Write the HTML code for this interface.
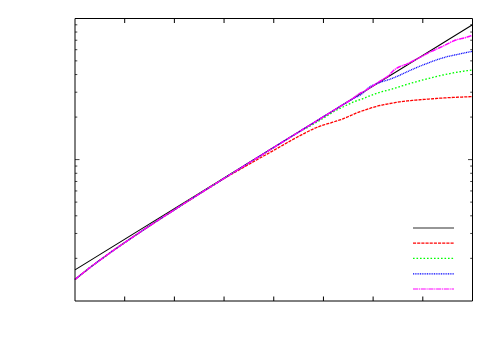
<!DOCTYPE html><html><head><meta charset="utf-8"><style>html,body{margin:0;padding:0;background:#fff;font-family:"Liberation Sans",sans-serif}svg{display:block}</style></head><body>
<svg width="500" height="350" viewBox="0 0 500 350">
<rect width="500" height="350" fill="#fff"/>
<g fill="none" stroke-linejoin="round">
<path d="M75.0,269.9 L472.5,24.75" stroke="#000" stroke-width="1.05"/>
<path d="M75.0,279.49 L76.0,278.67 L77.0,277.84 L78.0,277.03 L79.0,276.22 L80.0,275.41 L81.0,274.61 L82.0,273.81 L83.0,273.01 L84.0,272.22 L85.0,271.44 L86.0,270.65 L87.0,269.87 L88.0,269.10 L89.0,268.33 L90.0,267.56 L91.0,266.80 L92.0,266.03 L93.0,265.28 L94.0,264.52 L95.0,263.77 L96.0,263.02 L97.0,262.28 L98.0,261.53 L99.0,260.79 L100.0,260.06 L101.0,259.32 L102.0,258.59 L103.0,257.86 L104.0,257.13 L105.0,256.41 L106.0,255.69 L107.0,254.97 L108.0,254.25 L109.0,253.53 L110.0,252.82 L111.0,252.11 L112.0,251.40 L113.0,250.69 L114.0,249.99 L115.0,249.28 L116.0,248.58 L117.0,247.88 L118.0,247.18 L119.0,246.49 L120.0,245.79 L121.0,245.10 L122.0,244.41 L123.0,243.72 L124.0,243.03 L125.0,242.35 L126.0,241.66 L127.0,240.98 L128.0,240.30 L129.0,239.62 L130.0,238.94 L131.0,238.26 L132.0,237.58 L133.0,236.91 L134.0,236.23 L135.0,235.56 L136.0,234.89 L137.0,234.22 L138.0,233.55 L139.0,232.88 L140.0,232.21 L141.0,231.55 L142.0,230.88 L143.0,230.22 L144.0,229.55 L145.0,228.89 L146.0,228.23 L147.0,227.57 L148.0,226.91 L149.0,226.25 L150.0,225.59 L151.0,224.94 L152.0,224.28 L153.0,223.63 L154.0,222.97 L155.0,222.32 L156.0,221.67 L157.0,221.01 L158.0,220.36 L159.0,219.71 L160.0,219.06 L161.0,218.41 L162.0,217.76 L163.0,217.12 L164.0,216.47 L165.0,215.82 L166.0,215.18 L167.0,214.53 L168.0,213.89 L169.0,213.24 L170.0,212.60 L171.0,211.96 L172.0,211.31 L173.0,210.67 L174.0,210.03 L175.0,209.39 L176.0,208.75 L177.0,208.11 L178.0,207.47 L179.0,206.83 L180.0,206.19 L181.0,205.55 L182.0,204.92 L183.0,204.28 L184.0,203.64 L185.0,203.01 L186.0,202.37 L187.0,201.73 L188.0,201.10 L189.0,200.46 L190.0,199.83 L191.0,199.19 L192.0,198.56 L193.0,197.93 L194.0,197.29 L195.0,196.66 L196.0,196.03 L197.0,195.40 L198.0,194.77 L199.0,194.13 L200.0,193.50 L201.0,192.87 L202.0,192.24 L203.0,191.61 L204.0,190.98 L205.0,190.35 L206.0,189.72 L207.0,189.09 L208.0,188.46 L209.0,187.84 L210.0,187.21 L211.0,186.58 L212.0,185.95 L213.0,185.32 L214.0,184.70 L215.0,184.07 L216.0,183.45 L217.0,182.84 L218.0,182.23 L219.0,181.62 L220.0,181.01 L221.0,180.40 L222.0,179.80 L223.0,179.20 L224.0,178.59 L225.0,177.99 L226.0,177.39 L227.0,176.81 L228.0,176.23 L229.0,175.66 L230.0,175.09 L231.0,174.53 L232.0,173.97 L233.0,173.41 L234.0,172.85 L235.0,172.29 L236.0,171.73 L237.0,171.16 L238.0,170.59 L239.0,170.02 L240.0,169.44 L241.0,168.86 L242.0,168.29 L243.0,167.71 L244.0,167.13 L245.0,166.55 L246.0,165.97 L247.0,165.40 L248.0,164.82 L249.0,164.25 L250.0,163.67 L251.0,163.10 L252.0,162.53 L253.0,161.96 L254.0,161.39 L255.0,160.83 L256.0,160.26 L257.0,159.70 L258.0,159.13 L259.0,158.57 L260.0,158.01 L261.0,157.44 L262.0,156.89 L263.0,156.33 L264.0,155.78 L265.0,155.22 L266.0,154.67 L267.0,154.11 L268.0,153.56 L269.0,153.00 L270.0,152.44 L271.0,151.87 L272.0,151.31 L273.0,150.75 L274.0,150.18 L275.0,149.61 L276.0,149.04 L277.0,148.48 L278.0,147.91 L279.0,147.34 L280.0,146.77 L281.0,146.20 L282.0,145.64 L283.0,145.07 L284.0,144.50 L285.0,143.93 L286.0,143.36 L287.0,142.79 L288.0,142.22 L289.0,141.65 L290.0,141.08 L291.0,140.51 L292.0,139.95 L293.0,139.39 L294.0,138.84 L295.0,138.29 L296.0,137.75 L297.0,137.22 L298.0,136.69 L299.0,136.16 L300.0,135.64 L301.0,135.11 L302.0,134.59 L303.0,134.07 L304.0,133.56 L305.0,133.05 L306.0,132.54 L307.0,132.03 L308.0,131.52 L309.0,131.01 L310.0,130.51 L311.0,130.02 L312.0,129.54 L313.0,129.07 L314.0,128.62 L315.0,128.18 L316.0,127.75 L317.0,127.34 L318.0,126.93 L319.0,126.54 L320.0,126.17 L321.0,125.82 L322.0,125.47 L323.0,125.14 L324.0,124.82 L325.0,124.50 L326.0,124.20 L327.0,123.92 L328.0,123.66 L329.0,123.39 L330.0,123.10 L331.0,122.79 L332.0,122.47 L333.0,122.15 L334.0,121.82 L335.0,121.50 L336.0,121.19 L337.0,120.88 L338.0,120.56 L339.0,120.24 L340.0,119.90 L341.0,119.54 L342.0,119.17 L343.0,118.79 L344.0,118.40 L345.0,118.00 L346.0,117.60 L347.0,117.18 L348.0,116.76 L349.0,116.34 L350.0,115.90 L351.0,115.45 L352.0,114.98 L353.0,114.51 L354.0,114.04 L355.0,113.60 L356.0,113.19 L357.0,112.80 L358.0,112.42 L359.0,112.06 L360.0,111.70 L361.0,111.35 L362.0,111.00 L363.0,110.67 L364.0,110.34 L365.0,110.00 L366.0,109.66 L367.0,109.31 L368.0,108.97 L369.0,108.63 L370.0,108.30 L371.0,107.98 L372.0,107.68 L373.0,107.38 L374.0,107.08 L375.0,106.80 L376.0,106.52 L377.0,106.25 L378.0,105.99 L379.0,105.74 L380.0,105.50 L381.0,105.27 L382.0,105.05 L383.0,104.84 L384.0,104.63 L385.0,104.44 L386.0,104.24 L387.0,104.06 L388.0,103.87 L389.0,103.69 L390.0,103.50 L391.0,103.31 L392.0,103.13 L393.0,102.95 L394.0,102.77 L395.0,102.60 L396.0,102.43 L397.0,102.26 L398.0,102.10 L399.0,101.95 L400.0,101.80 L401.0,101.66 L402.0,101.53 L403.0,101.40 L404.0,101.28 L405.0,101.17 L406.0,101.06 L407.0,100.95 L408.0,100.85 L409.0,100.75 L410.0,100.66 L411.0,100.56 L412.0,100.47 L413.0,100.38 L414.0,100.29 L415.0,100.19 L416.0,100.10 L417.0,100.01 L418.0,99.92 L419.0,99.83 L420.0,99.74 L421.0,99.66 L422.0,99.57 L423.0,99.49 L424.0,99.41 L425.0,99.33 L426.0,99.26 L427.0,99.18 L428.0,99.10 L429.0,99.03 L430.0,98.95 L431.0,98.88 L432.0,98.80 L433.0,98.73 L434.0,98.65 L435.0,98.58 L436.0,98.50 L437.0,98.43 L438.0,98.36 L439.0,98.29 L440.0,98.22 L441.0,98.15 L442.0,98.08 L443.0,98.01 L444.0,97.95 L445.0,97.88 L446.0,97.82 L447.0,97.76 L448.0,97.70 L449.0,97.64 L450.0,97.59 L451.0,97.54 L452.0,97.49 L453.0,97.44 L454.0,97.39 L455.0,97.34 L456.0,97.30 L457.0,97.25 L458.0,97.21 L459.0,97.17 L460.0,97.12 L461.0,97.08 L462.0,97.04 L463.0,96.99 L464.0,96.95 L465.0,96.91 L466.0,96.86 L467.0,96.82 L468.0,96.78 L469.0,96.74 L470.0,96.70 L471.0,96.66 L472.5,96.60" stroke="#ff0000" stroke-width="1.3" stroke-dasharray="3.1,1.07"/>
<path d="M75.0,279.49 L76.0,278.67 L77.0,277.84 L78.0,277.03 L79.0,276.22 L80.0,275.41 L81.0,274.61 L82.0,273.81 L83.0,273.01 L84.0,272.22 L85.0,271.44 L86.0,270.65 L87.0,269.87 L88.0,269.10 L89.0,268.33 L90.0,267.56 L91.0,266.80 L92.0,266.03 L93.0,265.28 L94.0,264.52 L95.0,263.77 L96.0,263.02 L97.0,262.28 L98.0,261.53 L99.0,260.79 L100.0,260.06 L101.0,259.32 L102.0,258.59 L103.0,257.86 L104.0,257.13 L105.0,256.41 L106.0,255.69 L107.0,254.97 L108.0,254.25 L109.0,253.53 L110.0,252.82 L111.0,252.11 L112.0,251.40 L113.0,250.69 L114.0,249.99 L115.0,249.28 L116.0,248.58 L117.0,247.88 L118.0,247.18 L119.0,246.49 L120.0,245.79 L121.0,245.10 L122.0,244.41 L123.0,243.72 L124.0,243.03 L125.0,242.35 L126.0,241.66 L127.0,240.98 L128.0,240.30 L129.0,239.62 L130.0,238.94 L131.0,238.26 L132.0,237.58 L133.0,236.91 L134.0,236.23 L135.0,235.56 L136.0,234.89 L137.0,234.22 L138.0,233.55 L139.0,232.88 L140.0,232.21 L141.0,231.55 L142.0,230.88 L143.0,230.22 L144.0,229.55 L145.0,228.89 L146.0,228.23 L147.0,227.57 L148.0,226.91 L149.0,226.25 L150.0,225.59 L151.0,224.94 L152.0,224.28 L153.0,223.63 L154.0,222.97 L155.0,222.32 L156.0,221.67 L157.0,221.01 L158.0,220.36 L159.0,219.71 L160.0,219.06 L161.0,218.41 L162.0,217.76 L163.0,217.12 L164.0,216.47 L165.0,215.82 L166.0,215.18 L167.0,214.53 L168.0,213.89 L169.0,213.24 L170.0,212.60 L171.0,211.96 L172.0,211.31 L173.0,210.67 L174.0,210.03 L175.0,209.39 L176.0,208.75 L177.0,208.11 L178.0,207.47 L179.0,206.83 L180.0,206.19 L181.0,205.55 L182.0,204.92 L183.0,204.28 L184.0,203.64 L185.0,203.01 L186.0,202.37 L187.0,201.73 L188.0,201.10 L189.0,200.46 L190.0,199.83 L191.0,199.19 L192.0,198.56 L193.0,197.93 L194.0,197.29 L195.0,196.66 L196.0,196.03 L197.0,195.40 L198.0,194.77 L199.0,194.13 L200.0,193.50 L201.0,192.87 L202.0,192.24 L203.0,191.61 L204.0,190.98 L205.0,190.35 L206.0,189.72 L207.0,189.09 L208.0,188.46 L209.0,187.84 L210.0,187.21 L211.0,186.58 L212.0,185.95 L213.0,185.32 L214.0,184.70 L215.0,184.07 L216.0,183.44 L217.0,182.81 L218.0,182.19 L219.0,181.56 L220.0,180.93 L221.0,180.31 L222.0,179.68 L223.0,179.06 L224.0,178.43 L225.0,177.81 L226.0,177.18 L227.0,176.56 L228.0,175.93 L229.0,175.31 L230.0,174.68 L231.0,174.06 L232.0,173.43 L233.0,172.81 L234.0,172.19 L235.0,171.56 L236.0,170.94 L237.0,170.31 L238.0,169.69 L239.0,169.07 L240.0,168.45 L241.0,167.82 L242.0,167.20 L243.0,166.58 L244.0,165.95 L245.0,165.33 L246.0,164.71 L247.0,164.09 L248.0,163.47 L249.0,162.84 L250.0,162.22 L251.0,161.60 L252.0,160.98 L253.0,160.36 L254.0,159.73 L255.0,159.11 L256.0,158.49 L257.0,157.87 L258.0,157.25 L259.0,156.63 L260.0,156.01 L261.0,155.39 L262.0,154.77 L263.0,154.15 L264.0,153.53 L265.0,152.90 L266.0,152.28 L267.0,151.66 L268.0,151.04 L269.0,150.42 L270.0,149.80 L271.0,149.18 L272.0,148.56 L273.0,147.94 L274.0,147.32 L275.0,146.70 L276.0,146.08 L277.0,145.46 L278.0,144.84 L279.0,144.22 L280.0,143.61 L281.0,142.99 L282.0,142.37 L283.0,141.75 L284.0,141.13 L285.0,140.51 L286.0,139.89 L287.0,139.27 L288.0,138.65 L289.0,138.03 L290.0,137.41 L291.0,136.79 L292.0,136.18 L293.0,135.56 L294.0,134.94 L295.0,134.32 L296.0,133.70 L297.0,133.15 L298.0,132.60 L299.0,132.06 L300.0,131.51 L301.0,130.97 L302.0,130.43 L303.0,129.89 L304.0,129.35 L305.0,128.83 L306.0,128.31 L307.0,127.78 L308.0,127.24 L309.0,126.69 L310.0,126.11 L311.0,125.54 L312.0,124.95 L313.0,124.37 L314.0,123.78 L315.0,123.18 L316.0,122.59 L317.0,122.00 L318.0,121.40 L319.0,120.80 L320.0,120.20 L321.0,119.58 L322.0,118.97 L323.0,118.35 L324.0,117.73 L325.0,117.12 L326.0,116.50 L327.0,115.88 L328.0,115.26 L329.0,114.63 L330.0,113.99 L331.0,113.37 L332.0,112.75 L333.0,112.13 L334.0,111.52 L335.0,110.90 L336.0,110.33 L337.0,109.82 L338.0,109.36 L339.0,108.92 L340.0,108.47 L341.0,108.00 L342.0,107.50 L343.0,107.00 L344.0,106.50 L345.0,106.00 L346.0,105.50 L347.0,105.01 L348.0,104.51 L349.0,104.02 L350.0,103.53 L351.0,103.06 L352.0,102.60 L353.0,102.17 L354.0,101.76 L355.0,101.38 L356.0,101.00 L357.0,100.64 L358.0,100.31 L359.0,100.00 L360.0,99.68 L361.0,99.35 L362.0,99.00 L363.0,98.62 L364.0,98.22 L365.0,97.82 L366.0,97.41 L367.0,97.00 L368.0,96.60 L369.0,96.21 L370.0,95.81 L371.0,95.43 L372.0,95.04 L373.0,94.67 L374.0,94.30 L375.0,93.95 L376.0,93.60 L377.0,93.26 L378.0,92.93 L379.0,92.61 L380.0,92.30 L381.0,91.99 L382.0,91.70 L383.0,91.43 L384.0,91.18 L385.0,90.94 L386.0,90.71 L387.0,90.46 L388.0,90.20 L389.0,89.92 L390.0,89.63 L391.0,89.33 L392.0,89.02 L393.0,88.71 L394.0,88.40 L395.0,88.10 L396.0,87.80 L397.0,87.49 L398.0,87.18 L399.0,86.87 L400.0,86.56 L401.0,86.25 L402.0,85.93 L403.0,85.62 L404.0,85.31 L405.0,85.00 L406.0,84.69 L407.0,84.39 L408.0,84.09 L409.0,83.79 L410.0,83.49 L411.0,83.20 L412.0,82.91 L413.0,82.63 L414.0,82.35 L415.0,82.07 L416.0,81.80 L417.0,81.52 L418.0,81.25 L419.0,80.99 L420.0,80.72 L421.0,80.46 L422.0,80.19 L423.0,79.93 L424.0,79.67 L425.0,79.41 L426.0,79.16 L427.0,78.90 L428.0,78.64 L429.0,78.39 L430.0,78.13 L431.0,77.88 L432.0,77.63 L433.0,77.37 L434.0,77.12 L435.0,76.88 L436.0,76.63 L437.0,76.39 L438.0,76.15 L439.0,75.91 L440.0,75.68 L441.0,75.45 L442.0,75.22 L443.0,75.00 L444.0,74.78 L445.0,74.57 L446.0,74.35 L447.0,74.15 L448.0,73.94 L449.0,73.74 L450.0,73.54 L451.0,73.35 L452.0,73.15 L453.0,72.96 L454.0,72.78 L455.0,72.60 L456.0,72.42 L457.0,72.24 L458.0,72.07 L459.0,71.90 L460.0,71.73 L461.0,71.57 L462.0,71.42 L463.0,71.26 L464.0,71.11 L465.0,70.97 L466.0,70.83 L467.0,70.69 L468.0,70.56 L469.0,70.43 L470.0,70.30 L471.0,70.18 L472.5,70.00" stroke="#00ff00" stroke-width="1.35" stroke-dasharray="1.6,1.9"/>
<path d="M75.0,279.49 L76.0,278.67 L77.0,277.84 L78.0,277.03 L79.0,276.22 L80.0,275.41 L81.0,274.61 L82.0,273.81 L83.0,273.01 L84.0,272.22 L85.0,271.44 L86.0,270.65 L87.0,269.87 L88.0,269.10 L89.0,268.33 L90.0,267.56 L91.0,266.80 L92.0,266.03 L93.0,265.28 L94.0,264.52 L95.0,263.77 L96.0,263.02 L97.0,262.28 L98.0,261.53 L99.0,260.79 L100.0,260.06 L101.0,259.32 L102.0,258.59 L103.0,257.86 L104.0,257.13 L105.0,256.41 L106.0,255.69 L107.0,254.97 L108.0,254.25 L109.0,253.53 L110.0,252.82 L111.0,252.11 L112.0,251.40 L113.0,250.69 L114.0,249.99 L115.0,249.28 L116.0,248.58 L117.0,247.88 L118.0,247.18 L119.0,246.49 L120.0,245.79 L121.0,245.10 L122.0,244.41 L123.0,243.72 L124.0,243.03 L125.0,242.35 L126.0,241.66 L127.0,240.98 L128.0,240.30 L129.0,239.62 L130.0,238.94 L131.0,238.26 L132.0,237.58 L133.0,236.91 L134.0,236.23 L135.0,235.56 L136.0,234.89 L137.0,234.22 L138.0,233.55 L139.0,232.88 L140.0,232.21 L141.0,231.55 L142.0,230.88 L143.0,230.22 L144.0,229.55 L145.0,228.89 L146.0,228.23 L147.0,227.57 L148.0,226.91 L149.0,226.25 L150.0,225.59 L151.0,224.94 L152.0,224.28 L153.0,223.63 L154.0,222.97 L155.0,222.32 L156.0,221.67 L157.0,221.01 L158.0,220.36 L159.0,219.71 L160.0,219.06 L161.0,218.41 L162.0,217.76 L163.0,217.12 L164.0,216.47 L165.0,215.82 L166.0,215.18 L167.0,214.53 L168.0,213.89 L169.0,213.24 L170.0,212.60 L171.0,211.96 L172.0,211.31 L173.0,210.67 L174.0,210.03 L175.0,209.39 L176.0,208.75 L177.0,208.11 L178.0,207.47 L179.0,206.83 L180.0,206.19 L181.0,205.55 L182.0,204.92 L183.0,204.28 L184.0,203.64 L185.0,203.01 L186.0,202.37 L187.0,201.73 L188.0,201.10 L189.0,200.46 L190.0,199.83 L191.0,199.19 L192.0,198.56 L193.0,197.93 L194.0,197.29 L195.0,196.66 L196.0,196.03 L197.0,195.40 L198.0,194.77 L199.0,194.13 L200.0,193.50 L201.0,192.87 L202.0,192.24 L203.0,191.61 L204.0,190.98 L205.0,190.35 L206.0,189.72 L207.0,189.09 L208.0,188.46 L209.0,187.84 L210.0,187.21 L211.0,186.58 L212.0,185.95 L213.0,185.32 L214.0,184.70 L215.0,184.07 L216.0,183.44 L217.0,182.81 L218.0,182.19 L219.0,181.56 L220.0,180.93 L221.0,180.31 L222.0,179.68 L223.0,179.06 L224.0,178.43 L225.0,177.81 L226.0,177.18 L227.0,176.56 L228.0,175.93 L229.0,175.31 L230.0,174.68 L231.0,174.06 L232.0,173.43 L233.0,172.81 L234.0,172.19 L235.0,171.56 L236.0,170.94 L237.0,170.31 L238.0,169.69 L239.0,169.07 L240.0,168.45 L241.0,167.82 L242.0,167.20 L243.0,166.58 L244.0,165.95 L245.0,165.33 L246.0,164.71 L247.0,164.09 L248.0,163.47 L249.0,162.84 L250.0,162.22 L251.0,161.60 L252.0,160.98 L253.0,160.36 L254.0,159.73 L255.0,159.11 L256.0,158.49 L257.0,157.87 L258.0,157.25 L259.0,156.63 L260.0,156.01 L261.0,155.39 L262.0,154.77 L263.0,154.15 L264.0,153.53 L265.0,152.90 L266.0,152.28 L267.0,151.66 L268.0,151.04 L269.0,150.42 L270.0,149.80 L271.0,149.18 L272.0,148.56 L273.0,147.94 L274.0,147.32 L275.0,146.70 L276.0,146.08 L277.0,145.46 L278.0,144.84 L279.0,144.22 L280.0,143.61 L281.0,142.99 L282.0,142.37 L283.0,141.75 L284.0,141.13 L285.0,140.51 L286.0,139.89 L287.0,139.27 L288.0,138.65 L289.0,138.03 L290.0,137.41 L291.0,136.79 L292.0,136.18 L293.0,135.56 L294.0,134.94 L295.0,134.32 L296.0,133.70 L297.0,133.08 L298.0,132.46 L299.0,131.84 L300.0,131.23 L301.0,130.61 L302.0,129.99 L303.0,129.37 L304.0,128.75 L305.0,128.13 L306.0,127.51 L307.0,126.90 L308.0,126.28 L309.0,125.66 L310.0,125.04 L311.0,124.42 L312.0,123.81 L313.0,123.19 L314.0,122.57 L315.0,121.95 L316.0,121.33 L317.0,120.71 L318.0,120.10 L319.0,119.48 L320.0,118.86 L321.0,118.24 L322.0,117.62 L323.0,117.01 L324.0,116.39 L325.0,115.77 L326.0,115.15 L327.0,114.54 L328.0,113.92 L329.0,113.30 L330.0,112.68 L331.0,112.06 L332.0,111.45 L333.0,110.83 L334.0,110.21 L335.0,109.59 L336.0,108.98 L337.0,108.36 L338.0,107.74 L339.0,107.12 L340.0,106.57 L341.0,105.95 L342.0,105.34 L343.0,104.72 L344.0,104.11 L345.0,103.50 L346.0,102.89 L347.0,102.28 L348.0,101.68 L349.0,101.07 L350.0,100.47 L351.0,99.87 L352.0,99.27 L353.0,98.70 L354.0,98.18 L355.0,97.69 L356.0,97.22 L357.0,96.74 L358.0,96.25 L359.0,95.72 L360.0,95.13 L361.0,94.45 L362.0,93.66 L363.0,92.80 L364.0,91.91 L365.0,91.05 L366.0,90.15 L367.0,89.19 L368.0,88.25 L369.0,87.38 L370.0,86.66 L371.0,86.10 L372.0,85.60 L373.0,85.17 L374.0,84.77 L375.0,84.37 L376.0,83.96 L377.0,83.55 L378.0,83.15 L379.0,82.77 L380.0,82.40 L381.0,82.05 L382.0,81.73 L383.0,81.43 L384.0,81.13 L385.0,80.84 L386.0,80.54 L387.0,80.23 L388.0,79.90 L389.0,79.55 L390.0,79.20 L391.0,78.84 L392.0,78.47 L393.0,78.10 L394.0,77.71 L395.0,77.30 L396.0,76.88 L397.0,76.44 L398.0,76.00 L399.0,75.55 L400.0,75.10 L401.0,74.64 L402.0,74.18 L403.0,73.72 L404.0,73.25 L405.0,72.78 L406.0,72.30 L407.0,71.83 L408.0,71.37 L409.0,70.90 L410.0,70.45 L411.0,70.00 L412.0,69.56 L413.0,69.12 L414.0,68.69 L415.0,68.26 L416.0,67.84 L417.0,67.41 L418.0,67.00 L419.0,66.58 L420.0,66.17 L421.0,65.77 L422.0,65.37 L423.0,64.97 L424.0,64.57 L425.0,64.18 L426.0,63.79 L427.0,63.40 L428.0,63.02 L429.0,62.64 L430.0,62.26 L431.0,61.88 L432.0,61.51 L433.0,61.15 L434.0,60.79 L435.0,60.43 L436.0,60.08 L437.0,59.74 L438.0,59.40 L439.0,59.06 L440.0,58.74 L441.0,58.42 L442.0,58.11 L443.0,57.80 L444.0,57.51 L445.0,57.23 L446.0,56.96 L447.0,56.71 L448.0,56.47 L449.0,56.23 L450.0,56.01 L451.0,55.79 L452.0,55.57 L453.0,55.36 L454.0,55.15 L455.0,54.95 L456.0,54.74 L457.0,54.53 L458.0,54.32 L459.0,54.10 L460.0,53.88 L461.0,53.67 L462.0,53.45 L463.0,53.24 L464.0,53.03 L465.0,52.82 L466.0,52.61 L467.0,52.40 L468.0,52.20 L469.0,52.00 L470.0,51.80 L471.0,51.60 L472.5,51.30" stroke="#0000ff" stroke-width="1.3" stroke-dasharray="1,0.75"/>
<path d="M75.0,279.49 L76.0,278.67 L77.0,277.84 L78.0,277.03 L79.0,276.22 L80.0,275.41 L81.0,274.61 L82.0,273.81 L83.0,273.01 L84.0,272.22 L85.0,271.44 L86.0,270.65 L87.0,269.87 L88.0,269.10 L89.0,268.33 L90.0,267.56 L91.0,266.80 L92.0,266.03 L93.0,265.28 L94.0,264.52 L95.0,263.77 L96.0,263.02 L97.0,262.28 L98.0,261.53 L99.0,260.79 L100.0,260.06 L101.0,259.32 L102.0,258.59 L103.0,257.86 L104.0,257.13 L105.0,256.41 L106.0,255.69 L107.0,254.97 L108.0,254.25 L109.0,253.53 L110.0,252.82 L111.0,252.11 L112.0,251.40 L113.0,250.69 L114.0,249.99 L115.0,249.28 L116.0,248.58 L117.0,247.88 L118.0,247.18 L119.0,246.49 L120.0,245.79 L121.0,245.10 L122.0,244.41 L123.0,243.72 L124.0,243.03 L125.0,242.35 L126.0,241.66 L127.0,240.98 L128.0,240.30 L129.0,239.62 L130.0,238.94 L131.0,238.26 L132.0,237.58 L133.0,236.91 L134.0,236.23 L135.0,235.56 L136.0,234.89 L137.0,234.22 L138.0,233.55 L139.0,232.88 L140.0,232.21 L141.0,231.55 L142.0,230.88 L143.0,230.22 L144.0,229.55 L145.0,228.89 L146.0,228.23 L147.0,227.57 L148.0,226.91 L149.0,226.25 L150.0,225.59 L151.0,224.94 L152.0,224.28 L153.0,223.63 L154.0,222.97 L155.0,222.32 L156.0,221.67 L157.0,221.01 L158.0,220.36 L159.0,219.71 L160.0,219.06 L161.0,218.41 L162.0,217.76 L163.0,217.12 L164.0,216.47 L165.0,215.82 L166.0,215.18 L167.0,214.53 L168.0,213.89 L169.0,213.24 L170.0,212.60 L171.0,211.96 L172.0,211.31 L173.0,210.67 L174.0,210.03 L175.0,209.39 L176.0,208.75 L177.0,208.11 L178.0,207.47 L179.0,206.83 L180.0,206.19 L181.0,205.55 L182.0,204.92 L183.0,204.28 L184.0,203.64 L185.0,203.01 L186.0,202.37 L187.0,201.73 L188.0,201.10 L189.0,200.46 L190.0,199.83 L191.0,199.19 L192.0,198.56 L193.0,197.93 L194.0,197.29 L195.0,196.66 L196.0,196.03 L197.0,195.40 L198.0,194.77 L199.0,194.13 L200.0,193.50 L201.0,192.87 L202.0,192.24 L203.0,191.61 L204.0,190.98 L205.0,190.35 L206.0,189.72 L207.0,189.09 L208.0,188.46 L209.0,187.84 L210.0,187.21 L211.0,186.58 L212.0,185.95 L213.0,185.32 L214.0,184.70 L215.0,184.07 L216.0,183.44 L217.0,182.81 L218.0,182.19 L219.0,181.56 L220.0,180.93 L221.0,180.31 L222.0,179.68 L223.0,179.06 L224.0,178.43 L225.0,177.81 L226.0,177.18 L227.0,176.56 L228.0,175.93 L229.0,175.31 L230.0,174.68 L231.0,174.06 L232.0,173.43 L233.0,172.81 L234.0,172.19 L235.0,171.56 L236.0,170.94 L237.0,170.31 L238.0,169.69 L239.0,169.07 L240.0,168.45 L241.0,167.82 L242.0,167.20 L243.0,166.58 L244.0,165.95 L245.0,165.33 L246.0,164.71 L247.0,164.09 L248.0,163.47 L249.0,162.84 L250.0,162.22 L251.0,161.60 L252.0,160.98 L253.0,160.36 L254.0,159.73 L255.0,159.11 L256.0,158.49 L257.0,157.87 L258.0,157.25 L259.0,156.63 L260.0,156.01 L261.0,155.39 L262.0,154.77 L263.0,154.15 L264.0,153.53 L265.0,152.90 L266.0,152.28 L267.0,151.66 L268.0,151.04 L269.0,150.42 L270.0,149.80 L271.0,149.18 L272.0,148.56 L273.0,147.94 L274.0,147.32 L275.0,146.70 L276.0,146.08 L277.0,145.46 L278.0,144.84 L279.0,144.22 L280.0,143.61 L281.0,142.99 L282.0,142.37 L283.0,141.75 L284.0,141.13 L285.0,140.51 L286.0,139.89 L287.0,139.27 L288.0,138.65 L289.0,138.03 L290.0,137.41 L291.0,136.79 L292.0,136.18 L293.0,135.56 L294.0,134.94 L295.0,134.32 L296.0,133.70 L297.0,133.08 L298.0,132.46 L299.0,131.84 L300.0,131.23 L301.0,130.61 L302.0,129.99 L303.0,129.37 L304.0,128.75 L305.0,128.13 L306.0,127.51 L307.0,126.90 L308.0,126.28 L309.0,125.66 L310.0,125.04 L311.0,124.42 L312.0,123.81 L313.0,123.19 L314.0,122.57 L315.0,121.95 L316.0,121.33 L317.0,120.71 L318.0,120.10 L319.0,119.48 L320.0,118.86 L321.0,118.24 L322.0,117.62 L323.0,117.01 L324.0,116.39 L325.0,115.77 L326.0,115.15 L327.0,114.54 L328.0,113.92 L329.0,113.30 L330.0,112.68 L331.0,112.06 L332.0,111.45 L333.0,110.83 L334.0,110.21 L335.0,109.59 L336.0,108.98 L337.0,108.36 L338.0,107.74 L339.0,107.12 L340.0,106.51 L341.0,105.89 L342.0,105.27 L343.0,104.65 L344.0,104.04 L345.0,103.48 L346.0,102.86 L347.0,102.22 L348.0,101.58 L349.0,100.92 L350.0,100.26 L351.0,99.59 L352.0,98.92 L353.0,98.25 L354.0,97.54 L355.0,96.78 L356.0,96.01 L357.0,95.24 L358.0,94.51 L359.0,93.85 L360.0,93.28 L361.0,92.80 L362.0,92.35 L363.0,91.90 L364.0,91.41 L365.0,90.85 L366.0,90.23 L367.0,89.60 L368.0,88.97 L369.0,88.34 L370.0,87.71 L371.0,87.07 L372.0,86.43 L373.0,85.79 L374.0,85.13 L375.0,84.46 L376.0,83.79 L377.0,83.13 L378.0,82.47 L379.0,81.82 L380.0,81.20 L381.0,80.58 L382.0,79.96 L383.0,79.35 L384.0,78.73 L385.0,78.11 L386.0,77.50 L387.0,76.82 L388.0,76.06 L389.0,75.25 L390.0,74.24 L391.0,73.11 L392.0,72.00 L393.0,70.98 L394.0,70.12 L395.0,69.32 L396.0,68.63 L397.0,68.05 L398.0,67.52 L399.0,67.04 L400.0,66.56 L401.0,66.14 L402.0,65.78 L403.0,65.45 L404.0,65.10 L405.0,64.73 L406.0,64.36 L407.0,63.95 L408.0,63.48 L409.0,62.99 L410.0,62.48 L411.0,61.97 L412.0,61.46 L413.0,60.95 L414.0,60.43 L415.0,59.91 L416.0,59.39 L417.0,58.88 L418.0,58.40 L419.0,57.93 L420.0,57.43 L421.0,56.88 L422.0,56.31 L423.0,55.73 L424.0,55.16 L425.0,54.60 L426.0,54.07 L427.0,53.55 L428.0,53.06 L429.0,52.58 L430.0,52.11 L431.0,51.64 L432.0,51.18 L433.0,50.73 L434.0,50.27 L435.0,49.80 L436.0,49.33 L437.0,48.88 L438.0,48.43 L439.0,47.98 L440.0,47.54 L441.0,47.09 L442.0,46.63 L443.0,46.17 L444.0,45.69 L445.0,45.20 L446.0,44.69 L447.0,44.16 L448.0,43.63 L449.0,43.11 L450.0,42.60 L451.0,42.11 L452.0,41.63 L453.0,41.16 L454.0,40.72 L455.0,40.30 L456.0,39.94 L457.0,39.64 L458.0,39.39 L459.0,39.15 L460.0,38.90 L461.0,38.64 L462.0,38.40 L463.0,38.17 L464.0,37.93 L465.0,37.68 L466.0,37.40 L467.0,37.11 L468.0,36.80 L469.0,36.49 L470.0,36.16 L471.0,35.83 L472.5,35.30" stroke="#ff00ff" stroke-width="1.5" stroke-dasharray="5.1,0.7,1.2,0.7"/>
</g>
<line x1="413" x2="454" y1="228" y2="228" stroke="#000" stroke-opacity="0.82" stroke-width="1.2"/>
<line x1="413" x2="454" y1="243.2" y2="243.2" stroke="#ff0000" stroke-opacity="1" stroke-width="1.2" stroke-dasharray="3.1,1.07"/>
<line x1="413" x2="454" y1="258.4" y2="258.4" stroke="#00ff00" stroke-opacity="1" stroke-width="1.2" stroke-dasharray="1.6,1.9"/>
<line x1="413" x2="454" y1="273.8" y2="273.8" stroke="#0000ff" stroke-opacity="1" stroke-width="1.2" stroke-dasharray="1,0.75"/>
<line x1="413" x2="454" y1="289.0" y2="289.0" stroke="#ff00ff" stroke-opacity="1" stroke-width="1.2" stroke-dasharray="5.1,0.7,1.2,0.7"/>
<g stroke="#000" stroke-width="1" fill="none">
<path d="M75.0,18.5 H472.5 V301.0 H75.0 Z"/>
<path d="M124.69,18.5 v4.5 M124.69,301.0 v-4.5"/>
<path d="M174.38,18.5 v4.5 M174.38,301.0 v-4.5"/>
<path d="M224.06,18.5 v4.5 M224.06,301.0 v-4.5"/>
<path d="M273.75,18.5 v4.5 M273.75,301.0 v-4.5"/>
<path d="M323.44,18.5 v4.5 M323.44,301.0 v-4.5"/>
<path d="M373.12,18.5 v4.5 M373.12,301.0 v-4.5"/>
<path d="M422.81,18.5 v4.5 M422.81,301.0 v-4.5"/>
<path d="M75.0,159.6 h4.5 M472.5,159.6 h-4.5" stroke-opacity="0.75"/>
<path d="M75.0,117.08 h2.3 M472.5,117.08 h-2.3" stroke-opacity="0.75"/>
<path d="M75.0,92.21 h2.3 M472.5,92.21 h-2.3" stroke-opacity="0.75"/>
<path d="M75.0,74.56 h2.3 M472.5,74.56 h-2.3" stroke-opacity="0.75"/>
<path d="M75.0,60.87 h2.3 M472.5,60.87 h-2.3" stroke-opacity="0.75"/>
<path d="M75.0,49.69 h2.3 M472.5,49.69 h-2.3" stroke-opacity="0.75"/>
<path d="M75.0,40.23 h2.3 M472.5,40.23 h-2.3" stroke-opacity="0.75"/>
<path d="M75.0,32.04 h2.3 M472.5,32.04 h-2.3" stroke-opacity="0.75"/>
<path d="M75.0,24.81 h2.3 M472.5,24.81 h-2.3" stroke-opacity="0.75"/>
<path d="M75.0,258.33 h2.3 M472.5,258.33 h-2.3" stroke-opacity="0.75"/>
<path d="M75.0,233.46 h2.3 M472.5,233.46 h-2.3" stroke-opacity="0.75"/>
<path d="M75.0,215.81 h2.3 M472.5,215.81 h-2.3" stroke-opacity="0.75"/>
<path d="M75.0,202.12 h2.3 M472.5,202.12 h-2.3" stroke-opacity="0.75"/>
<path d="M75.0,190.94 h2.3 M472.5,190.94 h-2.3" stroke-opacity="0.75"/>
<path d="M75.0,181.48 h2.3 M472.5,181.48 h-2.3" stroke-opacity="0.75"/>
<path d="M75.0,173.29 h2.3 M472.5,173.29 h-2.3" stroke-opacity="0.75"/>
<path d="M75.0,166.06 h2.3 M472.5,166.06 h-2.3" stroke-opacity="0.75"/>
</g>
</svg></body></html>
